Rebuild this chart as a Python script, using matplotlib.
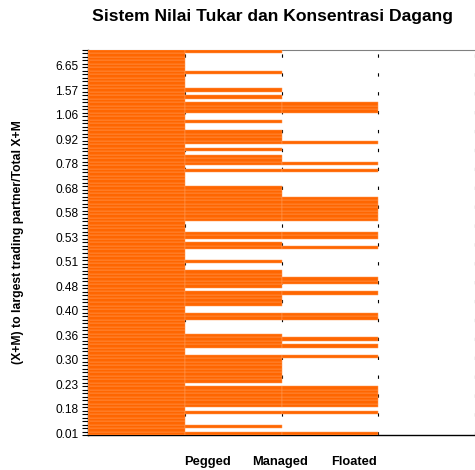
import numpy as np
import matplotlib
matplotlib.use("Agg")
import matplotlib.pyplot as plt

# Exchange-rate regime per country, sorted by trade concentration (bottom -> top)
# 1 = Pegged, 2 = Managed, 3 = Floated
regime = [3, 1, 2, 1, 1, 1, 3, 1, 3, 3,
          3, 3, 3, 3, 1, 2, 2, 2, 2, 2,
          2, 2, 3, 1, 1, 3, 2, 3, 2, 1,
          1, 1, 1, 3, 3, 1, 1, 2, 2, 2,
          3, 1, 2, 3, 3, 2, 2, 1, 1, 2,
          1, 1, 1, 3, 2, 1, 3, 3, 1, 1,
          1, 3, 3, 3, 3, 3, 3, 3, 2, 2,
          2, 1, 1, 1, 1, 3, 1, 3, 2, 2,
          1, 2, 1, 3, 2, 2, 2, 1, 1, 2,
          1, 1, 3, 3, 3, 1, 2, 1, 2, 1,
          1, 1, 1, 2, 1, 1, 1, 1, 1, 2]

# visible category labels (every 7th country)
tick_labels = ["0.01", "0.18", "0.23", "0.30", "0.36", "0.40", "0.48", "0.51",
               "0.53", "0.58", "0.68", "0.78", "0.92", "1.06", "1.57", "6.65"]
label_step = 7

regime_names = ["Pegged", "Managed", "Floated"]

plt.rcParams['font.family'] = ['Liberation Sans', 'DejaVu Sans']

fig = plt.figure(figsize=(4.75, 4.70), dpi=100)
ax = fig.add_axes([88/475, 1 - 435/470, 1 - 88/475, (435 - 50)/470])

regime = np.array(regime)
y = np.arange(len(regime))
orange = "#FF6600"
edge = "#FF9A55"
for k in range(1, 4):
    m = regime >= k
    ax.barh(y[m], 1, left=k - 1, height=1.0, color=orange,
            edgecolor=edge, linewidth=0.35, zorder=3)

# dashed vertical gridlines
for xv in [1, 2, 3, 4]:
    ax.axvline(xv, color="black", lw=0.8, linestyle=(0, (3, 14)), zorder=1)

ax.set_xlim(0, 4)
ax.set_ylim(-0.5, len(regime) - 0.5)

ax.set_yticks(y[::label_step])
ax.set_yticklabels(tick_labels, fontsize=8.6)
ax.set_yticks(np.arange(-0.5, len(regime)), minor=True)
ax.tick_params(axis="y", which="major", length=0, pad=7)
ax.tick_params(axis="y", which="minor", length=4, width=0.8, direction="out")

ax.set_xticks([1.23, 1.98, 2.75])
ax.set_xticklabels(regime_names, fontsize=9.3, fontweight="bold")
ax.tick_params(axis="x", length=0, pad=15)

ax.spines["right"].set_visible(False)
ax.spines["top"].set_color("#808080")
ax.spines["top"].set_linewidth(0.8)
ax.spines["left"].set_linewidth(1.0)
ax.spines["bottom"].set_linewidth(1.0)

fig.text(272.5/475, 1 - 16/470, "Sistem Nilai Tukar dan Konsentrasi Dagang",
         ha="center", va="center", fontsize=12.6, fontweight="bold")
fig.text(18/475, 1 - 242/470, "(X+M) to largest trading partner/Total X+M",
         ha="center", va="center", rotation=90, fontsize=8.8, fontweight="bold")

fig.savefig("out.png", dpi=100)
